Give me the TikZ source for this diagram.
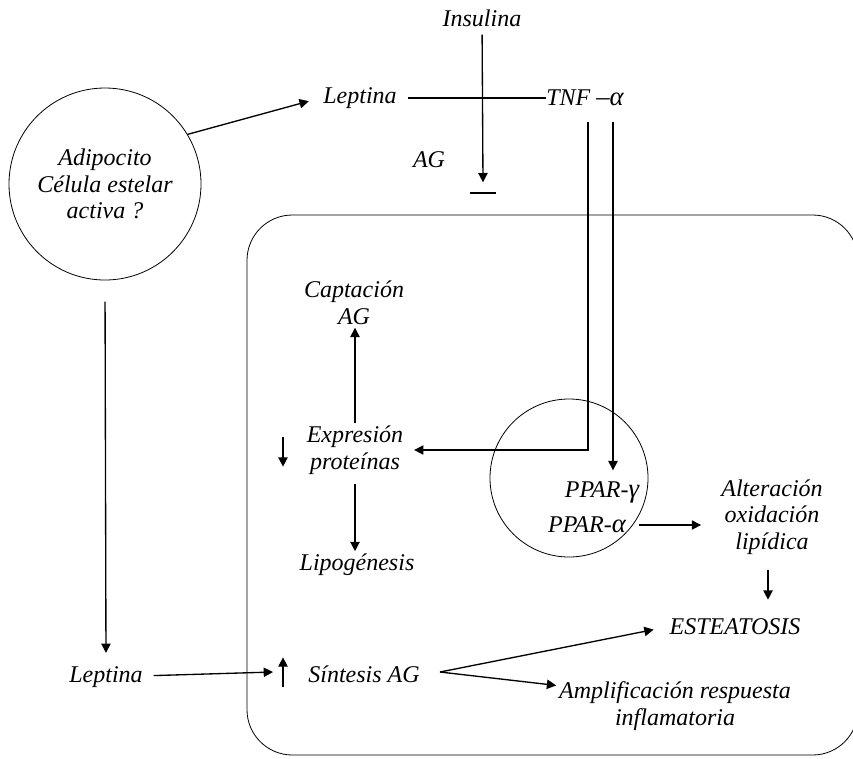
\documentclass[tikz,border=0pt]{standalone}
\usepackage{fontspec}
\setmainfont{Liberation Serif}
\usetikzlibrary{arrows.meta,positioning}
\tikzset{
  lbl/.style={font=\fontsize{18}{20}\selectfont\itshape,align=center,inner sep=2pt},
  ring/.style={draw,circle,line width=0.6pt},
  arr/.style={-{Triangle[length=7pt,width=7pt]},line width=1pt},
  ln/.style={line width=1pt},
}

\begin{document}
\begin{tikzpicture}[x=0.75pt,y=-0.75pt]
\useasboundingbox (0,0) rectangle (853,758);
\clip (0,0) rectangle (853,758);
\draw[line width=0.6pt,rounded corners=34pt] (247,215) rectangle (858,755);
\node[lbl] (ins) at (482,18) {Insulina};
\node[lbl] (lep) at (360,98) {Leptina};
\node[lbl,inner sep=0pt] (tnf) at (585,98) {TNF {\fontsize{20}{20}\selectfont –α}};
\node[lbl] (ag) at (429,160) {AG};
\coordinate (inh) at (483,193);
\draw[ln,shorten <=6pt] (lep) -- (tnf);
\draw[arr,shorten <=4pt] (ins) -- ([yshift=8pt]inh);
\draw[ln] ([xshift=-10pt]inh) -- ([xshift=10pt]inh);
\node[ring,lbl,minimum size=144pt] (adi) at (105,184) {Adipocito\\Célula estelar\\activa ?};
\draw[arr,shorten >=9pt] (adi.31) -- (lep.west);
\node[lbl] (lep2) at (106,677) {Leptina};
\draw[arr,shorten <=16pt,shorten >=8pt] (adi.south) -- (lep2.north);
\coordinate (up) at (283,672);
\draw[arr,shorten <=6pt] (lep2) -- ([xshift=-7.5pt]up);
\draw[arr] ([yshift=-11pt]up) -- ([yshift=11pt]up);
\node[lbl] (sin) at (364,674) {Síntesis AG};
\coordinate (fork) at (440,672);
\node[lbl] (est) at (735,627) {ESTEATOSIS};
\node[lbl] (amp) at (675,706) {Amplificación respuesta\\inflamatoria};
\draw[arr,shorten >=10pt] (fork) -- (est.west);
\draw[arr] (fork) -- ([yshift=-5pt]amp.north west);
\node[lbl] (cap) at (354,303) {Captación\\AG};
\node[lbl] (exp) at (355,450) {Expresión\\proteínas};
\node[lbl] (lip) at (357,565) {Lipogénesis};
\draw[arr] (exp.north) -- (exp.north |- cap.south);
\draw[arr,shorten <=5pt] (exp.south) -- (exp.south |- lip.north);
\coordinate (dn) at (283,452);
\draw[arr] ([yshift=11pt]dn) -- ([yshift=-11pt]dn);
\node[ring,minimum size=118.5pt] (pp) at (569,478) {};
\node[lbl] (pg) at (602,492) {PPAR-{\fontsize{20}{20}\selectfont γ}};
\node[lbl] (pa) at (587,525) {PPAR-{\fontsize{20}{20}\selectfont α}};
\coordinate (t1) at (588,122);
\coordinate (t2) at (613,122);
\draw[arr,shorten >=6pt] (t1) |- (exp.east);
\draw[arr,shorten >=6pt] (t2) -- (t2 |- pg.north);
\node[lbl] (alt) at (772,517) {Alteración\\oxidación\\lipídica};
\draw[arr,shorten <=7.5pt,shorten >=13pt] (pa.east) -- (pa.east -| alt.west);
\coordinate (dn2) at (768,585);
\draw[arr] ([yshift=11pt]dn2) -- ([yshift=-11pt]dn2);
\end{tikzpicture}
\end{document}
